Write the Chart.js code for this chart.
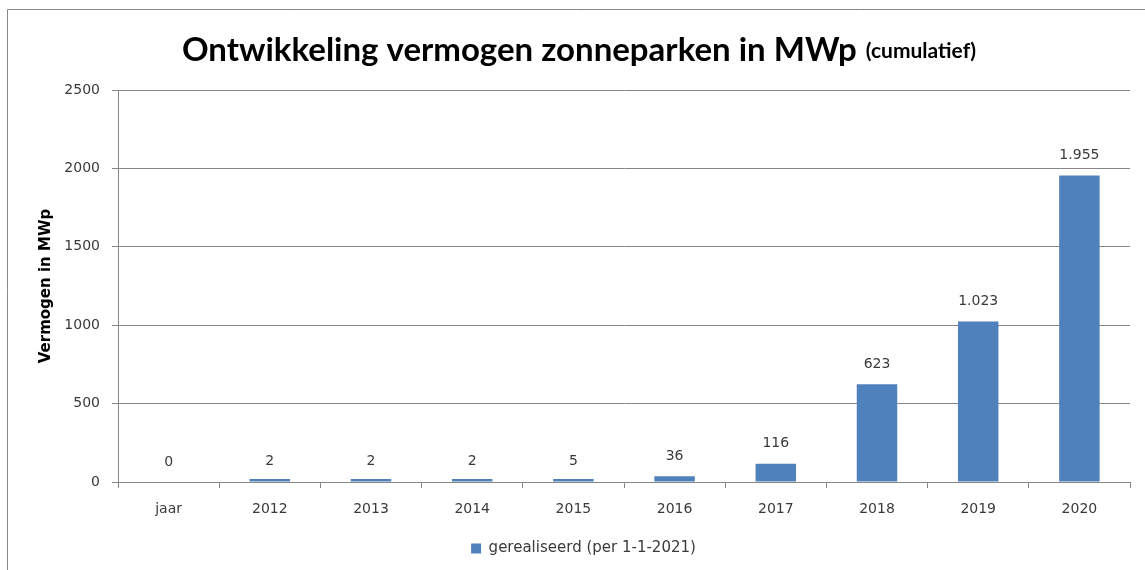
<!DOCTYPE html>
<html>
<head>
<meta charset="utf-8">
<script src="https://cdn.jsdelivr.net/npm/chart.js@4.4.1/dist/chart.umd.min.js"></script>
<style>
  html, body { margin: 0; padding: 0; background: #ffffff; }
  #wrap { width: 1145px; height: 570px; position: relative; }
</style>
</head>
<body>
<div id="wrap"><canvas id="c" width="1145" height="570"></canvas></div>
<script>
const categories = ['jaar', '2012', '2013', '2014', '2015', '2016', '2017', '2018', '2019', '2020'];
const realised = [0, 2, 2, 2, 5, 36, 116, 623, 1023, 1955];
const yTicks = [0, 500, 1000, 1500, 2000, 2500];
const titleMain = 'Ontwikkeling vermogen zonneparken in MWp';
const titleSub = '(cumulatief)';
const yTitle = 'Vermogen in MWp';
const seriesName = 'gerealiseerd (per 1-1-2021)';

const GRID = '#878787';
const TXT = '#3a3a3a';
const BLUE = '#4F81BD';
const TICKFONT = { family: 'DejaVu Sans', size: 14 };

function fmt(v) {
  return v.toLocaleString('nl-NL');
}

const framePlugin = {
  id: 'frame',
  beforeDraw(chart) {
    const ctx = chart.ctx;
    ctx.save();
    ctx.strokeStyle = '#888888';
    ctx.lineWidth = 1;
    ctx.beginPath();
    ctx.moveTo(7.5, 570);
    ctx.lineTo(7.5, 9.5);
    ctx.lineTo(1145, 9.5);
    ctx.stroke();
    ctx.restore();
  }
};

const titlePlugin = {
  id: 'twoPartTitle',
  afterDraw(chart) {
    const ctx = chart.ctx;
    ctx.save();
    ctx.fillStyle = '#000000';
    ctx.textBaseline = 'alphabetic';
    ctx.font = 'bold 33px Lato';
    const w1 = ctx.measureText(titleMain).width;
    ctx.font = 'bold 21px Lato';
    const gap = 9;
    const w2 = ctx.measureText(titleSub).width;
    const total = w1 + gap + w2;
    const cx = 579;
    let x = cx - total / 2;
    ctx.font = 'bold 33px Lato';
    ctx.textAlign = 'left';
    ctx.fillText(titleMain, x, 61);
    ctx.font = 'bold 21px Lato';
    ctx.fillText(titleSub, x + w1 + gap, 58);
    ctx.restore();
  }
};

const valueLabels = {
  id: 'valueLabels',
  afterDatasetsDraw(chart) {
    const ctx = chart.ctx;
    const meta = chart.getDatasetMeta(0);
    const yScale = chart.scales.y;
    ctx.save();
    ctx.fillStyle = TXT;
    ctx.font = '14px "DejaVu Sans"';
    ctx.textAlign = 'center';
    ctx.textBaseline = 'middle';
    meta.data.forEach((bar, i) => {
      ctx.fillText(fmt(realised[i]), bar.x, yScale.getPixelForValue(realised[i]) - 20);
    });
    ctx.restore();
  }
};

new Chart(document.getElementById('c'), {
  type: 'bar',
  data: {
    labels: categories,
    datasets: [{
      label: seriesName,
      data: realised,
      backgroundColor: realised.map(v => v > 0 ? BLUE : 'rgba(0,0,0,0)'),
      borderWidth: 0,
      minBarLength: 3,
      barPercentage: 0.4,
      categoryPercentage: 1.0
    }]
  },
  options: {
    responsive: false,
    animation: false,
    devicePixelRatio: 1,
    layout: { padding: { top: 90, right: 15, left: 37, bottom: 4 } },
    plugins: {
      title: { display: false },
      tooltip: { enabled: false },
      legend: {
        display: true,
        position: 'bottom',
        labels: {
          boxWidth: 10,
          boxHeight: 10,
          color: TXT,
          font: { family: 'DejaVu Sans', size: 15 },
          padding: 12,
          generateLabels(chart) {
            return [{
              text: seriesName,
              fillStyle: BLUE,
              strokeStyle: BLUE,
              lineWidth: 0,
              hidden: false,
              datasetIndex: 0,
              fontColor: TXT
            }];
          }
        }
      }
    },
    scales: {
      x: {
        grid: {
          display: true,
          offset: true,
          drawOnChartArea: false,
          drawTicks: true,
          tickLength: 6,
          color: GRID
        },
        border: { display: true, color: GRID, width: 1 },
        ticks: { color: TXT, font: TICKFONT, padding: 13, maxRotation: 0 },
        afterFit(scale) { scale.height = 47; }
      },
      y: {
        min: 0,
        max: 2500,
        afterBuildTicks(scale) { scale.ticks = yTicks.map(v => ({ value: v })); },
        grid: {
          color: GRID,
          drawTicks: true,
          tickLength: 6
        },
        border: { display: true, color: GRID, width: 1 },
        ticks: { color: TXT, font: TICKFONT, padding: 12, callback: v => String(v) },
        title: {
          display: true,
          text: yTitle,
          color: '#000000',
          font: { family: 'DejaVu Sans', size: 15, weight: 'bold' },
          padding: { top: 0, bottom: 4 }
        },
        afterFit(scale) { scale.width = 118 - 37; }
      }
    }
  },
  plugins: [framePlugin, titlePlugin, valueLabels]
});
</script>
</body>
</html>
